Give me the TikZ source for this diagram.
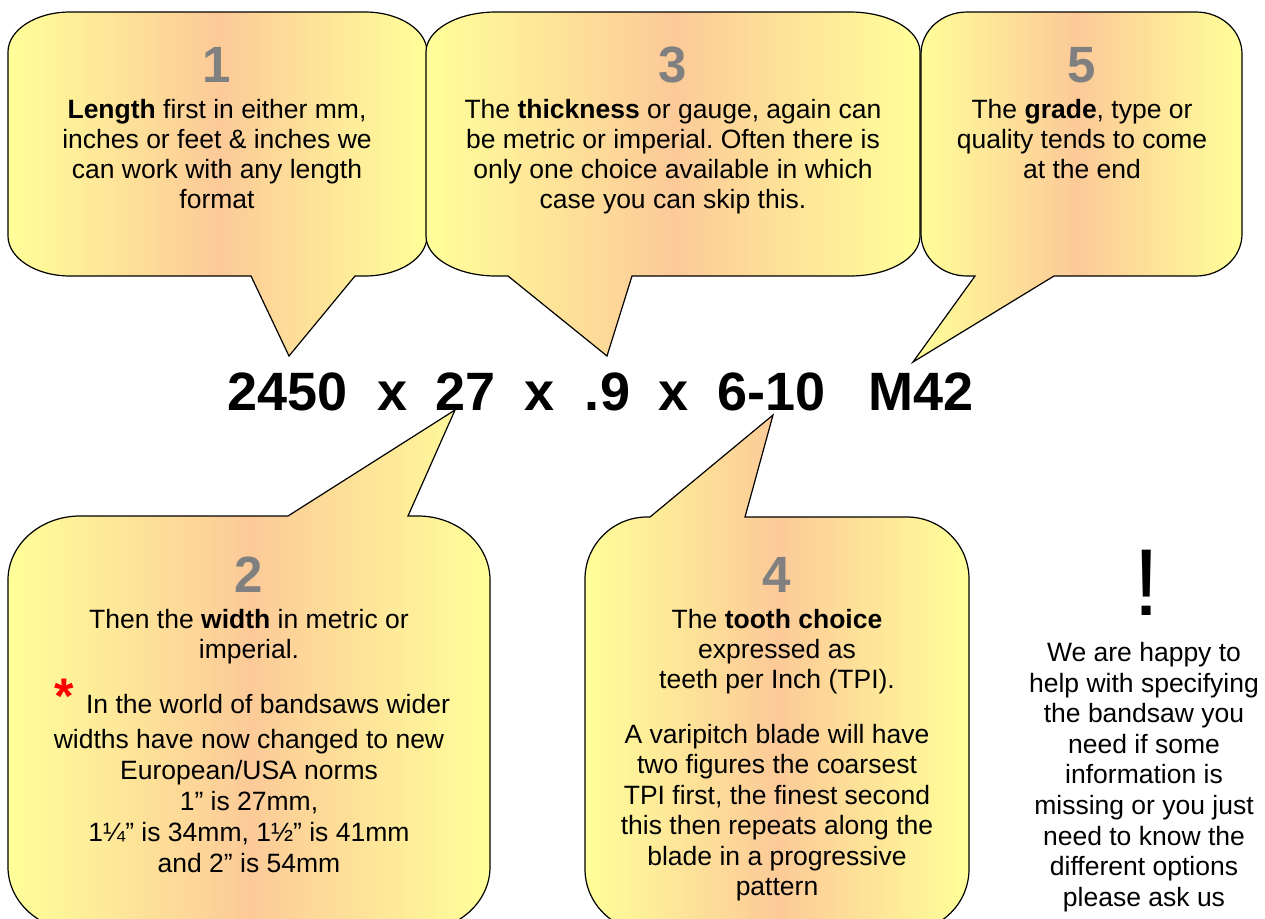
\documentclass[tikz,border=0pt]{standalone}
\usepackage{fontspec}
\setmainfont{Liberation Sans}
\frenchspacing
\definecolor{byel}{RGB}{255,255,153}
\definecolor{bpea}{RGB}{252,202,152}
\definecolor{numgray}{RGB}{128,128,128}
\definecolor{starred}{RGB}{255,0,0}
\tikzset{
  bubble/.style={draw=black, line width=1.2pt, line join=miter, left color=byel, right color=byel, middle color=bpea},
  num/.style={font=\fontsize{51}{56}\selectfont\bfseries, text=numgray, inner sep=0, anchor=base},
  body/.style={font=\fontsize{26.5}{30}\selectfont, align=center, inner sep=0, anchor=north},
  line/.style={font=\fontsize{26.5}{30}\selectfont, inner sep=0, anchor=base},
  code/.style={font=\fontsize{54}{60}\selectfont\bfseries, inner sep=0, anchor=base},
}
\begin{document}
\begin{tikzpicture}[x=1pt,y=-1pt]
\useasboundingbox (0,0) rectangle (1265,918);
\clip (0,0) rectangle (1265,918);
\fill[white] (0,0) rectangle (1265,918);

% callout 1
\path[bubble] (70,12) -- (365,12) .. controls (399.2,12) and (427,29.9) .. (427,52)
  -- (427,236) .. controls (427,258.1) and (399.2,276) .. (365,276)
  -- (355,276) -- (289,356) -- (251,276) -- (70,276)
  .. controls (35.8,276) and (8,258.1) .. (8,236) -- (8,52)
  .. controls (8,29.9) and (35.8,12) .. (70,12) -- cycle;
% callout 3
\path[bubble] (496,12) -- (850,12) .. controls (888.7,12) and (920,29.9) .. (920,52)
  -- (920,236) .. controls (920,258.1) and (888.7,276) .. (850,276)
  -- (632,276) -- (607,356) -- (508,276) -- (496,276)
  .. controls (457.3,276) and (426,258.1) .. (426,236) -- (426,52)
  .. controls (426,29.9) and (457.3,12) .. (496,12) -- cycle;
% callout 5
\path[bubble] (967,12) -- (1196,12) .. controls (1221.4,12) and (1242,30.8) .. (1242,54)
  -- (1242,234) .. controls (1242,257.2) and (1221.4,276) .. (1196,276)
  -- (1054,276) -- (913,362) -- (975,276) -- (967,276)
  .. controls (941.6,276) and (921,257.2) .. (921,234) -- (921,54)
  .. controls (921,30.8) and (941.6,12) .. (967,12) -- cycle;
% callout 2
\path[bubble] (80,516) -- (288,516) -- (455,410) -- (408,516) -- (418,516)
  .. controls (457.8,516) and (490,544.7) .. (490,580) -- (490,867)
  .. controls (490,902.3) and (457.8,931) .. (418,931) -- (80,931)
  .. controls (40.2,931) and (8,902.3) .. (8,867) -- (8,580)
  .. controls (8,544.7) and (40.2,516) .. (80,516) -- cycle;
% callout 4
\path[bubble] (647,517) -- (650,517) -- (773,415) -- (745,517) -- (907,517)
  .. controls (941.2,517) and (969,544.8) .. (969,579) -- (969,869)
  .. controls (969,903.2) and (941.2,931) .. (907,931) -- (647,931)
  .. controls (612.8,931) and (585,903.2) .. (585,869) -- (585,579)
  .. controls (585,544.8) and (612.8,517) .. (647,517) -- cycle;

% numbers
\node[num] (n1) at (217,82) {1};
\node[num] (n3) at (673,82) {3};
\node[num] (n5) at (1082,82) {5};
\node[num] (n2) at (249,592) {2};
\node[num] (n4) at (777,592) {4};

% texts
\node[body] (t1) at (217,99) {\textbf{Length} first in either mm,\\inches or feet \& inches we\\can work with any length\\format};
\node[body] (t3) at (673,99) {The \textbf{thickness} or gauge, again can\\be metric or imperial. Often there is\\only one choice available in which\\case you can skip this.};
\node[body] (t5) at (1082,99) {The \textbf{grade}, type or\\quality tends to come\\at the end};

\node[body] (t2a) at (249,609) {Then the \textbf{width} in metric or\\imperial.};
\node[font=\fontsize{50}{56}\selectfont\bfseries, text=starred, inner sep=0, anchor=base] (star) at (64,713) {*};
\node[line] (t2b) at (268,713) {In the world of bandsaws wider};
\node[body, font=\fontsize{26.5}{31}\selectfont] (t2c) at (249,729) {widths have now changed to new\\European/USA norms\\1” is 27mm,\\1¼” is 34mm, 1½” is 41mm\\and 2” is 54mm};

\node[body] (t4a) at (777,609) {The \textbf{tooth choice}\\expressed as\\teeth per Inch (TPI).};
\node[body, font=\fontsize{26.5}{30.4}\selectfont] (t4b) at (777,724) {A varipitch blade will have\\two figures the coarsest\\TPI first, the finest second\\this then repeats along the\\blade in a progressive\\pattern};

\node[font=\fontsize{95}{100}\selectfont, inner sep=0, anchor=base] (excl) at (1147,615) {!};
\node[body, font=\fontsize{26.5}{30.6}\selectfont] (t6) at (1144,642) {We are happy to\\help with specifying\\the bandsaw you\\need if some\\information is\\missing or you just\\need to know the\\different options\\please ask us};

% code line
\node[code] (c1) at (287.5,410) {2450};
\node[code] (x1) at (392.5,410) {x};
\node[code] (c2) at (466,410) {27};
\node[code] (x2) at (540,410) {x};
\node[code] (c3) at (607.5,410) {.9};
\node[code] (x3) at (673.5,410) {x};
\node[code] (c4) at (771.5,410) {6-10};
\node[code] (c5) at (921,410) {M42};
\end{tikzpicture}
\end{document}
